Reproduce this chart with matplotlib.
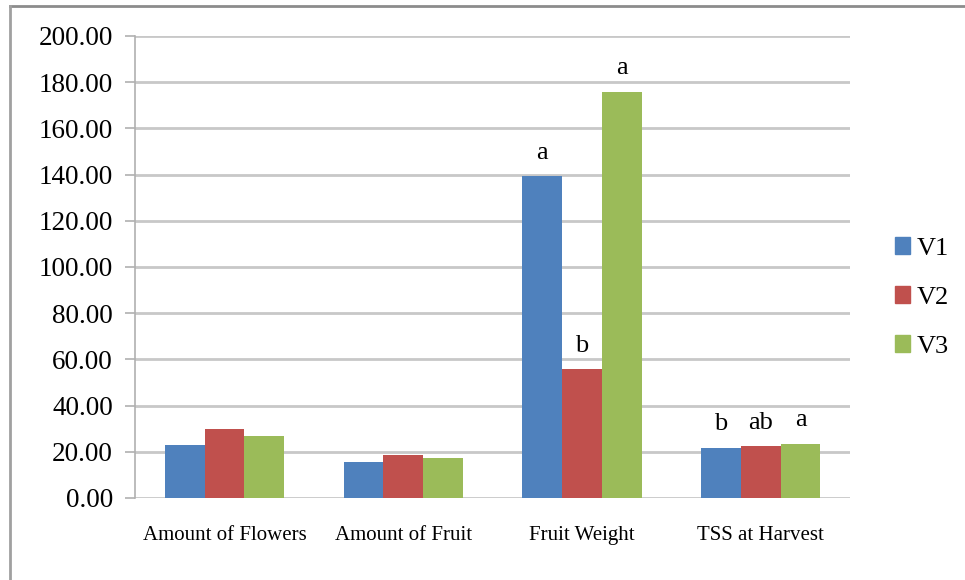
import numpy as np
import matplotlib
matplotlib.use('Agg')
from matplotlib import pyplot as plt
from matplotlib.patches import Rectangle
from matplotlib.lines import Line2D

# Data
categories = ['Amount of Flowers', 'Amount of Fruit', 'Fruit Weight', 'TSS at Harvest']
series_names = ['V1', 'V2', 'V3']
v1 = [23.1, 15.4, 139.2, 21.8]
v2 = [29.9, 18.7, 55.8, 22.4]
v3 = [26.9, 17.3, 175.9, 23.5]
# significance letters (None = no letter)
letters_v1 = [None, None, 'a', 'b']
letters_v2 = [None, None, 'b', 'ab']
letters_v3 = [None, None, 'a', 'a']
y_ticks = [0, 20, 40, 60, 80, 100, 120, 140, 160, 180, 200]

colors = ['#4F81BD', '#C0504D', '#9BBB59']
serif = ['Liberation Serif', 'DejaVu Serif']

fig = plt.figure(figsize=(9.65, 5.8), dpi=100)
ax = fig.add_axes([0.140, 0.1414, 0.741, 0.7966])

x = np.arange(len(categories))
bw = 0.222
for i, (vals, letters) in enumerate(zip([v1, v2, v3], [letters_v1, letters_v2, letters_v3])):
    pos = x + (i - 1) * bw
    ax.bar(pos, vals, width=bw, color=colors[i], zorder=3, label=series_names[i])
    for px, val, let in zip(pos, vals, letters):
        if let:
            ax.annotate(let, (px, val), xytext=(0, 9), textcoords='offset points',
                        ha='center', va='bottom', fontsize=19, family=serif)

ax.set_xlim(-0.5, len(categories) - 0.5)
ax.set_ylim(0, 200)
ax.set_yticks(y_ticks)
ax.set_yticklabels([f'{t:.2f}' for t in y_ticks], family=serif, fontsize=19.5)
ax.set_xticks(x)
ax.set_xticklabels(categories, family=serif, fontsize=15)
ax.tick_params(axis='x', length=0, pad=20)
ax.tick_params(axis='y', length=7, width=1.2, color='#b0b0b0', pad=9)
ax.yaxis.grid(True, color='#c8c8c8', linewidth=2, zorder=0)
for s in ['top', 'right', 'bottom']:
    ax.spines[s].set_visible(False)
ax.spines['left'].set_color('#b0b0b0')
ax.spines['left'].set_linewidth(1.2)

handles = [Rectangle((0, 0), 1, 1, color=c) for c in colors]
leg = fig.legend(handles, series_names, loc='center left', bbox_to_anchor=(0.927, 0.487),
                 frameon=False, prop={'family': serif, 'size': 19},
                 handlelength=0.6, handleheight=0.6, handletextpad=0.25, labelspacing=1.0,
                 borderaxespad=0, borderpad=0)

# outer chart frame (top and left edges visible)
fig.add_artist(Line2D([0.010, 1.0], [0.989, 0.989], transform=fig.transFigure, color='#8c8c8c', linewidth=2))
fig.add_artist(Line2D([0.010, 0.010], [0.0, 0.989], transform=fig.transFigure, color='#a0a0a0', linewidth=2))

fig.savefig('out.png', dpi=100)
